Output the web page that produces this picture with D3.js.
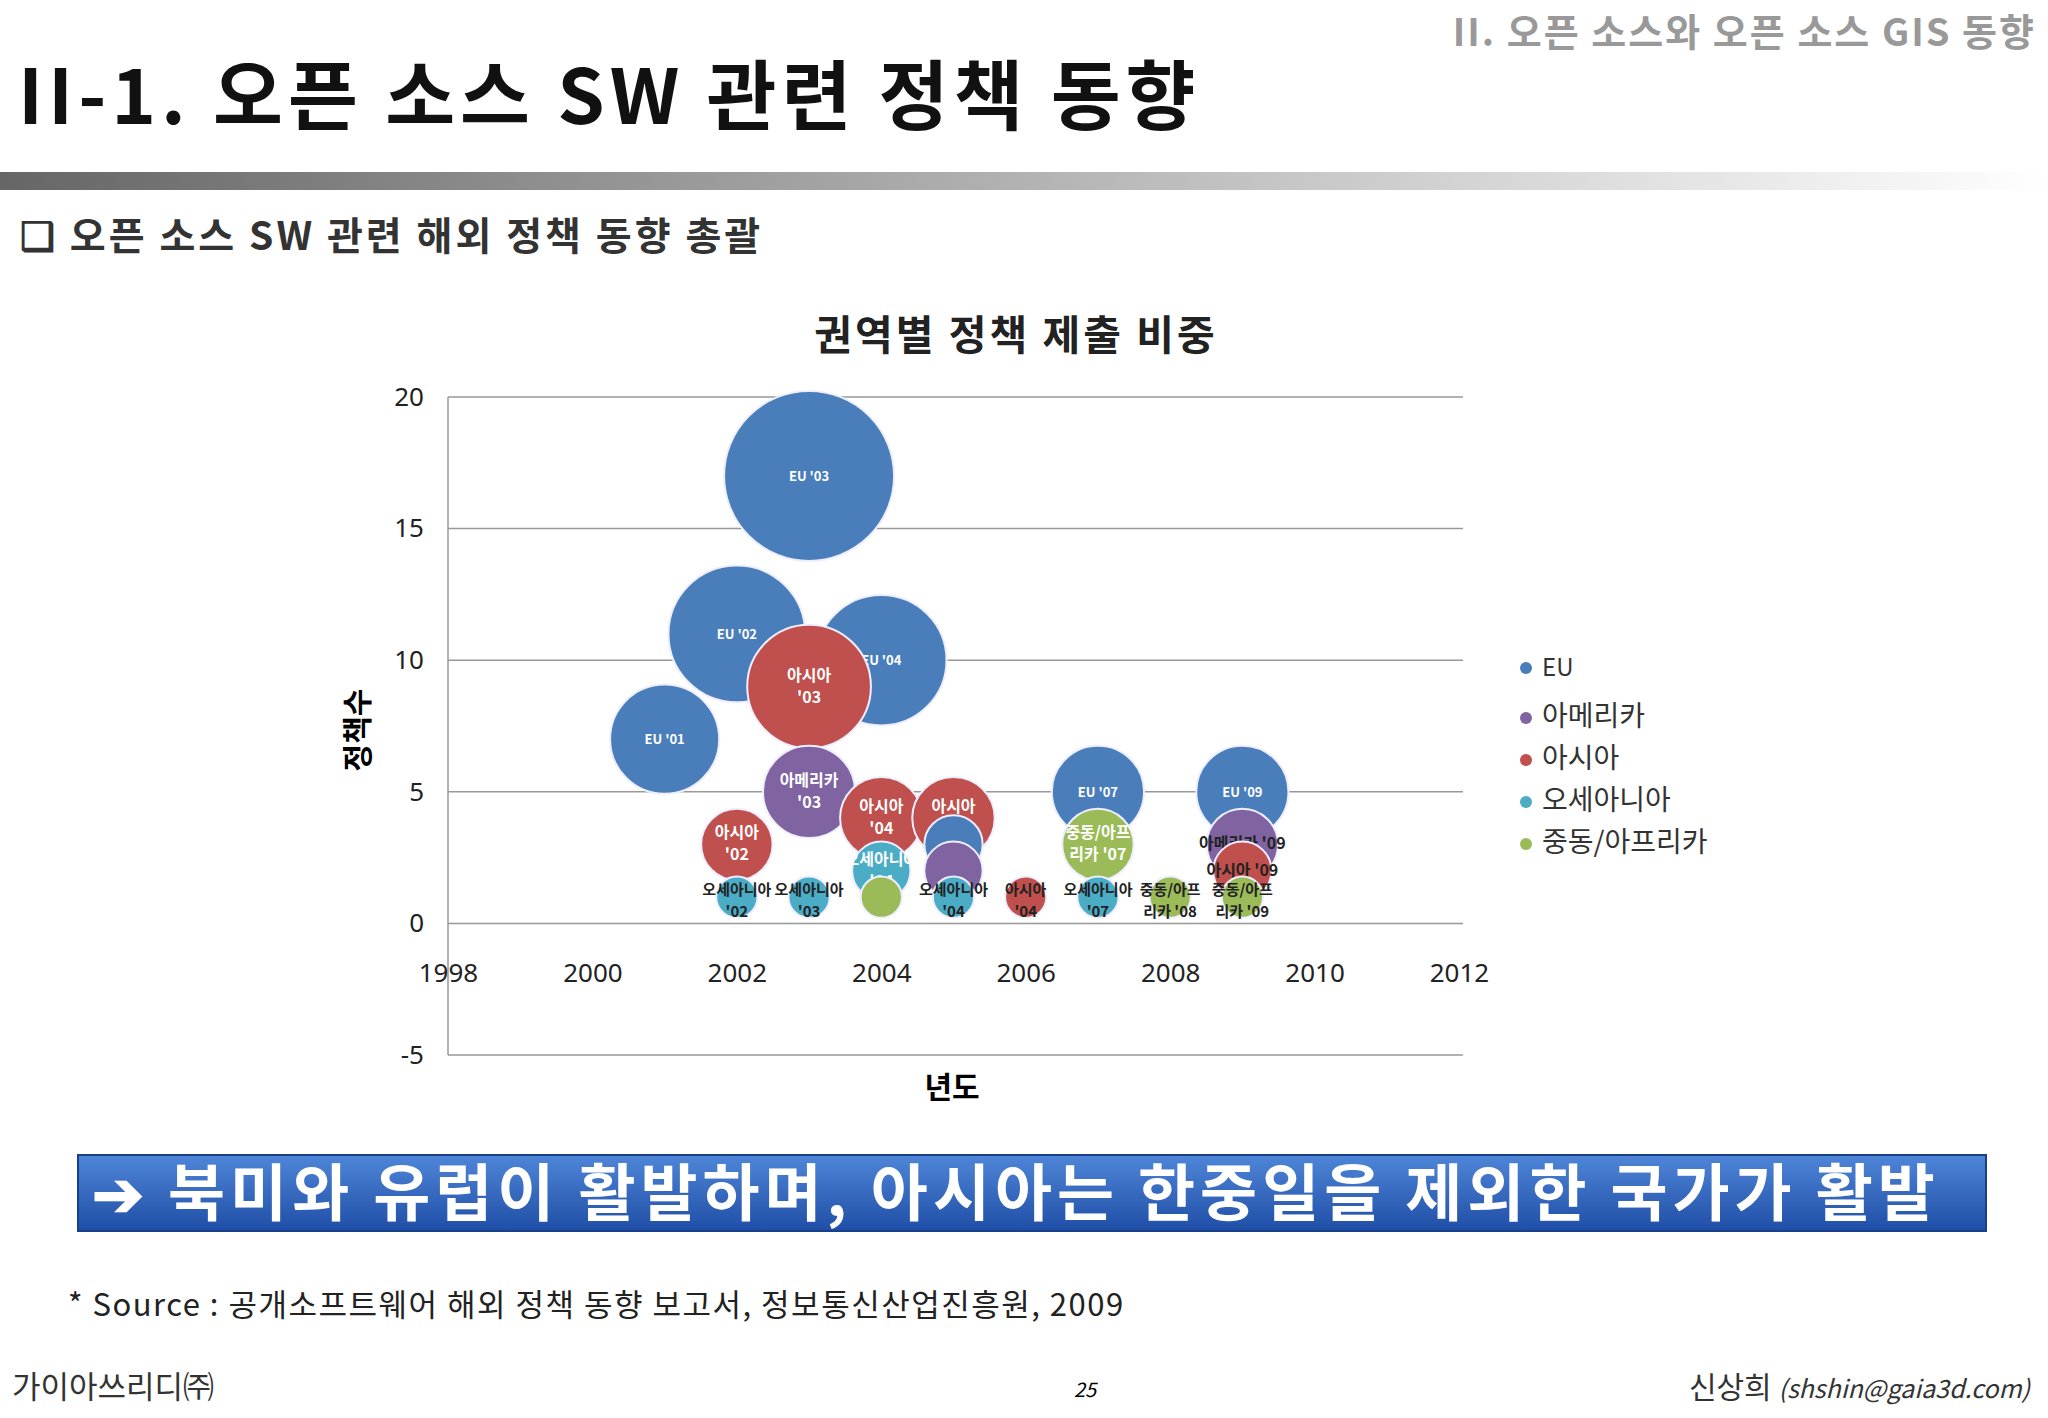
<!DOCTYPE html>
<html><head><meta charset="utf-8">
<script src="https://cdn.jsdelivr.net/npm/d3@7"></script>
<style>
body{margin:0;background:#fff;font-family:"Noto Sans CJK KR","Noto Sans",sans-serif;}
</style></head>
<body><div id="plot" style="width:2048px;height:1418px"></div>
<script>
var series = ['EU','아메리카','아시아','오세아니아','중동/아프리카'];
var colors = ['#4a7ebb','#8064a2','#c0504d','#4bacc6','#9bbb59'];

// each: [series index, year, count, size, label lines]
var euPts = [[0,2001,7,7,["EU '01"]],[0,2002,11,11,["EU '02"]],[0,2003,17,17,["EU '03"]],[0,2004,10,10,["EU '04"]],
  [0,2005,3,2,[""]],[0,2007,5,5,["EU '07"]],[0,2009,5,5,["EU '09"]]];
var amPts = [[1,2003,5,5,["아메리카","'03"]],[1,2005,2,2,[""]],[1,2009,3,3,["아메리카 '09"]]];
var asPts = [[2,2003,9,9,["아시아","'03"]],[2,2002,3,3,["아시아","'02"]],[2,2004,4,4,["아시아","'04"]],[2,2005,4,4,["아시아","'04"]],
  [2,2006,1,1,["아시아","'04"]],[2,2009,2,2,["아시아 '09"]]];
var ocPts = [[3,2002,1,1,["오세아니아","'02"]],[3,2003,1,1,["오세아니아","'03"]],[3,2004,2,2,["오세아니아","'04"]],
  [3,2005,1,1,["오세아니아","'04"]],[3,2007,1,1,["오세아니아","'07"]]];
var mePts = [[4,2004,1,1,[""]],[4,2007,3,3,["중동/아프","리카 '07"]],[4,2008,1,1,["중동/아프","리카 '08"]],[4,2009,1,1,["중동/아프","리카 '09"]]];
var xTicks = [1998,2000,2002,2004,2006,2008,2010,2012];
var yTicks = [-5,0,5,10,15,20];

var W = 2048, H = 1418;
var svg = d3.select('#plot').append('svg').attr('width',W).attr('height',H);

// header
svg.append('text').attr('x',2036).attr('y',46).attr('text-anchor','end').attr('font-size',38).attr('font-weight','bold')
  .attr('fill','#999').attr('letter-spacing',2).text('II. 오픈 소스와 오픈 소스 GIS 동향');
svg.append('text').attr('x',18).attr('y',124).attr('font-size',76).attr('font-weight','bold').attr('fill','#111')
  .attr('letter-spacing',5).text('II-1. 오픈 소스 SW 관련 정책 동향');
var g0 = svg.append('defs').append('linearGradient').attr('id','hb');
g0.append('stop').attr('offset','0%').attr('stop-color','#666');
g0.append('stop').attr('offset','100%').attr('stop-color','#fff');
svg.append('rect').attr('x',0).attr('y',172).attr('width',W).attr('height',18).attr('fill','url(#hb)');
svg.append('text').attr('x',20).attr('y',250).attr('font-size',39).attr('font-weight','bold').attr('fill','#333')
  .attr('letter-spacing',3).text('❑  오픈 소스 SW 관련 해외 정책 동향 총괄');

// chart
var x = d3.scaleLinear().domain([1998,2012]).range([448,1459]);
var y = d3.scaleLinear().domain([-5,20]).range([1055,397]);
var r = d3.scaleSqrt().domain([0,17]).range([0,85]);

svg.append('text').attr('x',1016).attr('y',350).attr('text-anchor','middle').attr('font-size',41).attr('font-weight','bold')
  .attr('fill','#222').attr('letter-spacing',3).text('권역별 정책 제출 비중');

svg.append('g').selectAll('line').data(yTicks).join('line')
  .attr('x1',x(1998)).attr('x2',1463).attr('y1',d=>y(d)).attr('y2',d=>y(d)).attr('stroke','#999').attr('stroke-width',1.5);
svg.append('line').attr('x1',x(1998)).attr('x2',x(1998)).attr('y1',y(20)).attr('y2',y(-5)).attr('stroke','#999').attr('stroke-width',1.5);
svg.append('g').attr('transform','translate('+(x(1998)-24)+',0)')
  .call(d3.axisLeft(y).tickValues(yTicks).tickSize(0).tickPadding(0).tickFormat(d=>d<0?'-'+(-d):d))
  .call(g=>g.select('.domain').remove())
  .selectAll('text').attr('font-size',26).attr('fill','#222').attr('font-family','Noto Sans');
svg.append('g').attr('transform','translate(0,'+(y(0)+40)+')')
  .call(d3.axisBottom(x).tickValues(xTicks).tickFormat(d3.format('d')).tickSize(0).tickPadding(0))
  .call(g=>g.select('.domain').remove())
  .selectAll('text').attr('font-size',26).attr('fill','#222').attr('font-family','Noto Sans');
svg.append('text').attr('x',952).attr('y',1098).attr('text-anchor','middle').attr('font-size',30).attr('font-weight','bold').text('년도');
svg.append('text').attr('transform','translate(368,730) rotate(-90)').attr('text-anchor','middle').attr('font-size',30).attr('font-weight','bold').text('정책수');

var pts = euPts.concat(amPts, asPts, ocPts, mePts);
pts.sort((a,b)=>b[3]-a[3]);
var bub = svg.append('g').selectAll('g').data(pts).join('g')
  .attr('transform',d=>'translate('+x(d[1])+','+y(d[2])+')');
bub.append('circle').attr('r',d=>r(d[3])).attr('fill',d=>colors[d[0]])
  .attr('stroke','#eef').attr('stroke-width',2);
bub.each(function(d){
  var small = d[3] <= 1;
  var fs = d[0]===0 ? 13 : (small ? 15 : 16);
  var col = (small || d[4].length===1 && d[0]!==0) ? '#222' : '#fff';
  var dy0 = d[4].length===2 ? -(small ? 2 : 6) : 5;
  d3.select(this).selectAll('text').data(d[4]).join('text')
    .attr('text-anchor','middle').attr('y',(t,i)=>dy0+i*22).attr('font-size',fs).attr('font-weight','bold')
    .attr('fill',col).text(t=>t);
});

// legend
var lg = svg.append('g').selectAll('g').data(series).join('g')
  .attr('transform',(d,i)=>'translate(1520,'+(i===0?676:726+(i-1)*42)+')');
lg.append('circle').attr('r',6).attr('cx',6).attr('cy',-8).attr('fill',(d,i)=>colors[i]);
lg.append('text').attr('x',22).attr('font-size',d=>d==='EU'?24:28).attr('fill','#333').text(d=>d);

// banner
var bg = svg.select('defs').append('linearGradient').attr('id','bn').attr('x1',0).attr('x2',0).attr('y1',0).attr('y2',1);
bg.append('stop').attr('offset','0%').attr('stop-color','#4f86d8');
bg.append('stop').attr('offset','100%').attr('stop-color','#1f4ea6');
svg.append('rect').attr('x',78).attr('y',1155).attr('width',1908).attr('height',76).attr('fill','url(#bn)')
  .attr('stroke','#1a3f8a').attr('stroke-width',2);
svg.append('text').attr('x',92).attr('y',1216).attr('font-size',62).attr('font-weight','bold').attr('fill','#fff')
  .attr('letter-spacing',5).text('➔ 북미와 유럽이 활발하며, 아시아는 한중일을 제외한 국가가 활발');

svg.append('text').attr('x',68).attr('y',1316).attr('font-size',31).attr('fill','#222').attr('letter-spacing',1.5)
  .text('* Source : 공개소프트웨어 해외 정책 동향 보고서, 정보통신산업진흥원, 2009');
svg.append('text').attr('x',12).attr('y',1398).attr('font-size',31).attr('fill','#333').text('가이아쓰리디㈜');
svg.append('text').attr('x',1085).attr('y',1397).attr('text-anchor','middle').attr('font-size',20).attr('font-style','italic').text('25');
svg.append('text').attr('x',2030).attr('y',1398).attr('text-anchor','end').attr('font-size',30).attr('fill','#333')
  .html('신상희 <tspan font-style="italic" font-size="25">(shshin@gaia3d.com)</tspan>');
</script></body></html>
